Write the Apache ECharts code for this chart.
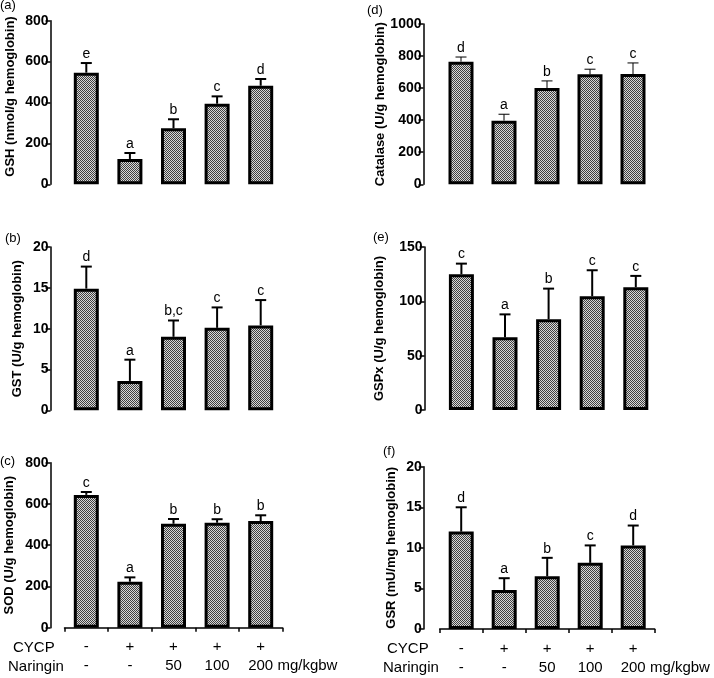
<!DOCTYPE html>
<html><head><meta charset="utf-8">
<script src="https://cdn.jsdelivr.net/npm/echarts@6/dist/echarts.min.js"></script>
<style>html,body{margin:0;padding:0;background:#fff}#c{width:714px;height:678px}</style>
</head><body><div id="c"></div>
<script>
// ---- data ----
const groups = ['G1', 'G2', 'G3', 'G4', 'G5'];
const cycpRow = ['-', '+', '+', '+', '+'];
const naringinRow = ['-', '-', '50', '100', '200'];
const doseUnit = 'mg/kgbw';

const gshMean = [546, 124, 274, 394, 482];
const gshSd = [47, 29, 44, 36, 33];
const gshLetters = ['e', 'a', 'b', 'c', 'd'];

const gstMean = [14.9, 3.6, 9.0, 10.1, 10.4];
const gstSd = [2.7, 2.6, 2.0, 2.5, 3.1];
const gstLetters = ['d', 'a', 'b,c', 'c', 'c'];

const sodMean = [644, 223, 504, 509, 517];
const sodSd = [14, 21, 23, 17, 28];
const sodLetters = ['c', 'a', 'b', 'b', 'b'];

const catMean = [765, 397, 601, 686, 688];
const catSd = [29, 40, 44, 32, 69];
const catLetters = ['d', 'a', 'b', 'c', 'c'];

const gspxMean = [125, 67, 83.5, 104.7, 113];
const gspxSd = [9.7, 21, 28.2, 23.9, 10.4];
const gspxLetters = ['c', 'a', 'b', 'c', 'c'];

const gsrMean = [12.0, 4.8, 6.5, 8.15, 10.3];
const gsrSd = [3.0, 1.46, 2.27, 2.15, 2.45];
const gsrLetters = ['d', 'a', 'b', 'c', 'd'];

// ---- styling ----
const FONT = '"Liberation Sans", Arial, Helvetica, sans-serif';

function makePattern() {
  const c = document.createElement('canvas');
  c.width = 2; c.height = 2;
  const ctx = c.getContext('2d');
  ctx.fillStyle = '#d8d8d8'; ctx.fillRect(0, 0, 2, 2);
  ctx.fillStyle = '#404040'; ctx.fillRect(0, 0, 1, 1); ctx.fillRect(1, 1, 1, 1);
  return c;
}
const pattern = { image: makePattern(), repeat: 'repeat' };

function measure(text, font) {
  const c = document.createElement('canvas').getContext('2d');
  c.font = font;
  return c.measureText(text).width;
}
const ROW_FS = 15;
const padW = measure(' ' + doseUnit, ROW_FS + 'px ' + FONT);

const panels = [
  { tag: '(a)', tagX: 0, tagY: 7, name: 'GSH (nmol/g hemoglobin)', mean: gshMean, sd: gshSd, letters: gshLetters,
    max: 800, interval: 200, grid: { left: 64.5, top: 20.7, width: 218, height: 163.6 }, yOff: 14, gap: 34, namePad: [0, 0, 0, 12], lw: 2, bottom: false },
  { tag: '(b)', tagX: 5, tagY: 240, name: 'GST (U/g hemoglobin)', mean: gstMean, sd: gstSd, letters: gstLetters,
    max: 20, interval: 5, grid: { left: 64.5, top: 247, width: 218, height: 163.3 }, yOff: 14, gap: 27, namePad: 0, lw: 2, bottom: false },
  { tag: '(c)', tagX: 0, tagY: 463, name: 'SOD (U/g hemoglobin)', mean: sodMean, sd: sodSd, letters: sodLetters,
    max: 800, interval: 200, grid: { left: 64.5, top: 462.7, width: 218, height: 165 }, yOff: 14, gap: 35, namePad: 0, lw: 2, bottom: true },
  { tag: '(d)', tagX: 367, tagY: 12, name: 'Catalase (U/g hemoglobin)', mean: catMean, sd: catSd, letters: catLetters,
    max: 1000, interval: 200, grid: { left: 439.5, top: 24, width: 215, height: 160.3 }, yOff: 16, gap: 37, namePad: 0, lw: 1, bottom: false },
  { tag: '(e)', tagX: 373, tagY: 239, name: 'GSPx (U/g hemoglobin)', mean: gspxMean, sd: gspxSd, letters: gspxLetters,
    max: 150, interval: 50, grid: { left: 439.6, top: 247, width: 218, height: 163 }, yOff: 15, gap: 39, namePad: 0, lw: 2, bottom: false },
  { tag: '(f)', tagX: 383, tagY: 453, name: 'GSR (mU/mg hemoglobin)', mean: gsrMean, sd: gsrSd, letters: gsrLetters,
    max: 20, interval: 5, grid: { left: 439.7, top: 466.7, width: 215, height: 162.3 }, yOff: 16, gap: 26, namePad: 0, lw: 2, bottom: true }
];

const grids = [], xAxes = [], yAxes = [], series = [], graphics = [];

panels.forEach((p, k) => {
  grids.push(Object.assign({ containLabel: false }, p.grid));
  xAxes.push({
    type: 'category', gridIndex: k, data: groups,
    show: p.bottom, offset: 3,
    axisLine: { show: p.bottom, lineStyle: { color: '#000', width: 1.5 } },
    axisTick: { show: p.bottom, length: 4, interval: 0, lineStyle: { color: '#000', width: 1.5 } },
    axisLabel: {
      show: p.bottom, interval: 0, margin: 7, color: '#000', fontFamily: FONT,
      formatter: function (v, i) {
        if (i === groups.length - 1) {
          return '{s|' + cycpRow[i] + '}\n{pad|}{s|' + naringinRow[i] + '}{s| ' + doseUnit + '}';
        }
        return '{s|' + cycpRow[i] + '}\n{s|' + naringinRow[i] + '}';
      },
      rich: {
        s: { fontSize: ROW_FS, fontFamily: FONT, color: '#000', align: 'center', lineHeight: 19 },
        pad: { width: padW, align: 'center', lineHeight: 19 }
      }
    }
  });
  yAxes.push({
    type: 'value', gridIndex: k, min: 0, max: p.max, interval: p.interval,
    offset: p.yOff,
    name: p.name, nameLocation: 'middle', nameGap: p.gap, nameRotate: 90,
    nameTextStyle: { fontSize: 13, fontWeight: 'bold', color: '#000', fontFamily: FONT, padding: p.namePad },
    axisLine: { show: true, lineStyle: { color: '#000', width: 1.5 } },
    axisTick: { show: true, length: 5, lineStyle: { color: '#000', width: 1.5 } },
    axisLabel: { fontSize: 14, fontWeight: 'bold', color: '#000', fontFamily: FONT, margin: 2,
      formatter: function (v) { return String(v); } },
    splitLine: { show: false }
  });
  series.push({
    type: 'bar', xAxisIndex: k, yAxisIndex: k, data: p.mean, barWidth: 25,
    itemStyle: { color: pattern, borderColor: '#000', borderWidth: 3 },
    silent: true
  });
  const letters = p.letters;
  const lw = p.lw;
  series.push({
    type: 'custom', xAxisIndex: k, yAxisIndex: k, z: 5, clip: false,
    data: groups.map((g, i) => [i, p.mean[i], p.mean[i] + p.sd[i]]),
    renderItem: function (params, api) {
      const i = api.value(0);
      const p0 = api.coord([i, api.value(1)]);
      const p1 = api.coord([i, api.value(2)]);
      const hw = 5.5;
      return {
        type: 'group', children: [
          { type: 'line', shape: { x1: p0[0], y1: p0[1], x2: p1[0], y2: p1[1] }, style: { stroke: '#000', lineWidth: lw } },
          { type: 'line', shape: { x1: p1[0] - hw, y1: p1[1], x2: p1[0] + hw, y2: p1[1] }, style: { stroke: '#000', lineWidth: lw } },
          { type: 'text', x: p1[0], y: p1[1] - 2, style: { text: letters[params.dataIndex], textAlign: 'center', textVerticalAlign: 'bottom', fontSize: 14, fontFamily: FONT, fill: '#000' } }
        ]
      };
    }
  });
  graphics.push({ type: 'text', left: p.tagX, top: p.tagY - 8, style: { text: p.tag, fontSize: 13, fontFamily: FONT, fill: '#000' } });
});

// row headers for the treatment table
graphics.push({ type: 'text', left: 13, top: 640, style: { text: 'CYCP', fontSize: ROW_FS, fontFamily: FONT, fill: '#000' } });
graphics.push({ type: 'text', left: 8, top: 659, style: { text: 'Naringin', fontSize: ROW_FS, fontFamily: FONT, fill: '#000' } });
graphics.push({ type: 'text', left: 387, top: 641, style: { text: 'CYCP', fontSize: ROW_FS, fontFamily: FONT, fill: '#000' } });
graphics.push({ type: 'text', left: 383, top: 660, style: { text: 'Naringin', fontSize: ROW_FS, fontFamily: FONT, fill: '#000' } });

const chart = echarts.init(document.getElementById('c'), null, { renderer: 'canvas' });
chart.setOption({
  animation: false,
  backgroundColor: '#fff',
  grid: grids, xAxis: xAxes, yAxis: yAxes, series: series, graphic: graphics
});
</script></body></html>
